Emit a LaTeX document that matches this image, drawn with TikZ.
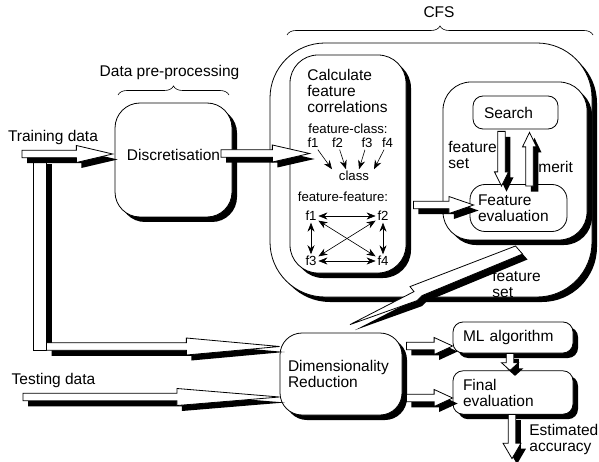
\documentclass[tikz,border=0pt]{standalone}
\usepackage{fontspec}
\setmainfont{Liberation Sans}
\usetikzlibrary{calc,shadows,decorations.pathreplacing,arrows.meta}
\newcommand{\bigtxt}  {\fontsize{15.5}{16}\selectfont}
\newcommand{\smalltxt}{\fontsize{13.2}{14}\selectfont}
\newcommand{\barrow}[4][0.6]{%
  \coordinate (ba-a) at #2;
  \coordinate (ba-b) at #3;
  \coordinate (ba-h) at ($(ba-a)!#1!(ba-b)$);
  \coordinate (ba1) at ($(ba-a)!3.75pt!90:(ba-b)$);
  \coordinate (ba2) at ($(ba-h)!3.75pt!90:(ba-b)$);
  \coordinate (ba3) at ($(ba-h)!#4!90:(ba-b)$);
  \coordinate (ba4) at ($(ba-h)!#4!-90:(ba-b)$);
  \coordinate (ba5) at ($(ba-h)!3.75pt!-90:(ba-b)$);
  \coordinate (ba6) at ($(ba-a)!3.75pt!-90:(ba-b)$);
  \begin{scope}[transform canvas={shift={(5pt,-5.5pt)}}]
    \fill (ba1) -- (ba2) -- (ba3) -- (ba-b) -- (ba4) -- (ba5) -- (ba6) -- cycle;
  \end{scope}
  \filldraw[fill=white] (ba1) -- (ba2) -- (ba3) -- (ba-b) -- (ba4) -- (ba5) -- (ba6) -- cycle;
}
\tikzset{
  box/.style={draw,fill=white,rounded corners=#1,inner sep=8pt,font=\bigtxt},
  shbox/.style={box=#1,drop shadow={shadow xshift=5pt,shadow yshift=-5pt,opacity=1,fill=black}},
  lbl/.style={inner sep=0pt,font=\bigtxt},
  slbl/.style={inner sep=1.5pt,font=\smalltxt},
  brc/.style={decorate,decoration={brace,amplitude=9pt},line width=0.6pt},
  farr/.style={-{Stealth[length=9pt,width=7pt]},line width=0.6pt},
  fdarr/.style={{Stealth[length=9pt,width=7pt]}-{Stealth[length=9pt,width=7pt]},line width=0.6pt}
}

\begin{document}
\begin{tikzpicture}[x=1pt,y=-1pt,line width=0.8pt]
  \useasboundingbox (0,0) rectangle (599,462);
  \node[shbox=55pt,minimum width=322pt,minimum height=254pt] (cfs) at (431,170) {};
  \node[shbox=28pt,minimum width=116pt,minimum height=218pt] (calc) at (348,164) {};
  \node[shbox=28pt,minimum width=144pt,minimum height=158pt] (evalbox) at (515,161) {};
  \node[box=10pt,text width=63pt,inner xsep=11pt,minimum height=33pt,align=left] (search) at (515.5,112.5) {Search};
  \node[box=15pt,text width=81pt,minimum height=47pt,align=left] (feval) at (518.5,208) {Feature\\evaluation};
  \node[shbox=25pt,minimum width=117pt,minimum height=114pt,text depth=10pt] (disc) at (173.5,160) {Discretisation};
  \node[shbox=22pt,text width=106pt,minimum height=82pt,align=left] (dim) at (341,374) {Dimensionality\\Reduction};
  \node[shbox=10pt,text width=100pt,inner xsep=10pt,minimum height=31pt,align=left] (ml) at (513,337.5) {ML algorithm};
  \node[shbox=10pt,text width=100pt,inner xsep=10pt,minimum height=35pt,align=left] (final) at (513,392.5) {Final\\evaluation};

  \node[lbl] (train lbl) at (53,137) {Training data};
  \node[lbl] (test lbl) at (53.5,380) {Testing data};
  \node[lbl] (pre lbl) at (169.5,72) {Data pre-processing};
  \node[lbl] (cfs lbl) at (439,12) {CFS};
  \draw[brc] (118,95) -- (229,95);
  \draw[brc] (287,35) -- (593,35);

  \node[lbl,anchor=west,align=left] (calc lbl) at (307,90.5) {Calculate\\feature\\correlations};
  \node[slbl,anchor=west,inner sep=0pt] (fc lbl) at (308,129) {feature-class:};
  \node[slbl] (fa1) at (313,143) {f1};
  \node[slbl] (fa2) at (337.5,143) {f2};
  \node[slbl] (fa3) at (367,143) {f3};
  \node[slbl] (fa4) at (387.5,143) {f4};
  \node[slbl] (cls) at (354,176) {class};
  \draw[farr] (fa1) -- ([xshift=-22pt]cls.north);
  \draw[farr] (fa2) -- ([xshift=-8pt]cls.north);
  \draw[farr] (fa3) -- ([xshift=5pt]cls.north);
  \draw[farr] (fa4) -- ([xshift=20pt]cls.north);
  \node[slbl,inner sep=0pt] (ff lbl) at (343,197) {feature-feature:};
  \node[slbl] (fb1) at (311,216) {f1};
  \node[slbl] (fb2) at (383,216) {f2};
  \node[slbl] (fb3) at (311,261) {f3};
  \node[slbl] (fb4) at (383,261) {f4};
  \draw[fdarr] (fb1) -- (fb2);
  \draw[fdarr] (fb3) -- (fb4);
  \draw[fdarr] (fb1) -- (fb3);
  \draw[fdarr] (fb2) -- (fb4);
  \draw[fdarr] (fb1) -- (fb4);
  \draw[fdarr] (fb2) -- (fb3);

  \node[lbl,anchor=west,align=left] (fs lbl) at (448,155) {feature\\set};
  \node[lbl,anchor=west] (merit lbl) at (538,167) {merit};
  \node[lbl,anchor=west,align=left] (fs out lbl) at (492,283.5) {feature\\set};
  \node[lbl,anchor=west,align=left] (acc lbl) at (529,439.5) {Estimated\\accuracy};

  \coordinate (train) at (22,154);
  \coordinate (split) at (39.5,158);
  \coordinate (corner) at (39.5,346.5);
  \coordinate (test) at (23,397);
  \coordinate (dc) at (221,153.5);
  \coordinate (ce) at ($(calc.east)+(7,41)$);
  \coordinate (dm) at ($(dim.east)+(4,-28)$);
  \coordinate (df) at ($(dim.east)+(4,24)$);
  \coordinate (fs tail) at (519.5,250);
  \coordinate (fs tip) at ($(dim.north)+(9,-8)$);

  \fill ($(split)+(-1,6)$) rectangle ($(corner)+(12.5,0)$);
  \filldraw[fill=white] ($(split)+(-6.5,0)$) rectangle ($(corner)+(6.5,3.5)$);
  \barrow{(train)}{($(train -| disc.west)+(-2,0)$)}{8.5pt}
  \barrow{($(corner)+(7,0)$)}{(corner -| dim.west)}{8.5pt}
  \barrow{(test)}{(test -| dim.west)}{8.5pt}
  \barrow[0.58]{(dc)}{($(dc -| calc.west)+(20,0)$)}{8.5pt}
  \barrow[0.59]{(ce)}{($(ce -| feval.west)+(4,0)$)}{8.5pt}
  \barrow[0.74]{($(search.south)+(-14,2)$)}{($(feval.north)+(-17,2)$)}{7pt}
  \barrow[0.73]{($(feval.north)+(11,2)$)}{($(search.south)+(14,3)$)}{7pt}
  \barrow{(dm)}{(dm -| ml.west)}{8.5pt}
  \barrow{(df)}{(df -| final.west)}{8.5pt}
  \barrow[0.55]{($(ml.south)+(-3,0)$)}{($(final.north)+(-3,0)$)}{8.5pt}
  \barrow[0.65]{($(final.south)+(-1,0)$)}{($(final.south)+(-1,44)$)}{9pt}

  \begin{scope}[transform canvas={shift={(5pt,-5.5pt)}}]
    \fill (fs tip) -- ($(fs tip)+(64,-33)$) -- ++(-4,-5) -- ($(fs tail)+(-4,-4)$)
      -- ($(fs tail)+(3,4)$) -- ($(fs tip)+(72,-29)$) -- ++(-5,5) -- cycle;
  \end{scope}
  \filldraw[fill=white] (fs tip) -- ($(fs tip)+(64,-33)$) -- ++(-4,-5) -- ($(fs tail)+(-4,-4)$)
      -- ($(fs tail)+(3,4)$) -- ($(fs tip)+(72,-29)$) -- ++(-5,5) -- cycle;
\end{tikzpicture}
\end{document}
